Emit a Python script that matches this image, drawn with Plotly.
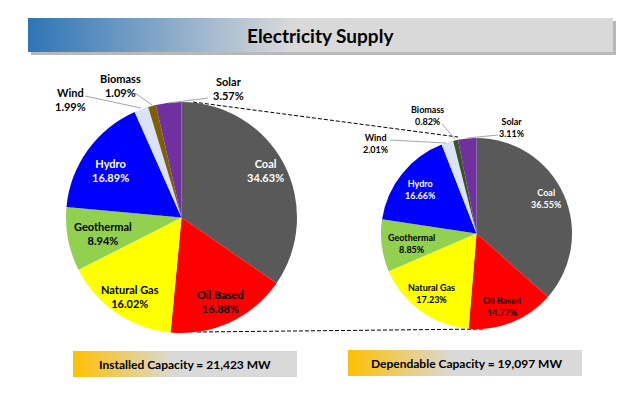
import plotly.graph_objects as go

# ---------------- data ----------------
categories = ["Coal", "Oil Based", "Natural Gas", "Geothermal", "Hydro", "Wind", "Biomass", "Solar"]
installed_pct = [34.63, 16.88, 16.02, 8.94, 16.89, 1.99, 1.09, 3.57]
dependable_pct = [36.55, 14.77, 17.23, 8.85, 16.66, 2.01, 0.82, 3.11]
title_text = "Electricity Supply"
installed_label = "Installed Capacity = 21,423 MW"
dependable_label = "Dependable Capacity = 19,097 MW"

# ---------------- styles ----------------
W, H = 643, 394
OFF = 8  # page body margin: the figure starts 8px in from the page corner
colors_left = ["#595959", "#FF0000", "#FFFF00", "#92D050", "#0000FF", "#DAE3F3", "#7F6000", "#7030A0"]
colors_right = ["#595959", "#FF0000", "#FFFF00", "#92D050", "#0000FF", "#DAE3F3", "#375623", "#7030A0"]
white_text = {"Coal", "Hydro"}
FONT = "Lato"

# label anchor positions (page pixels) for each category
pos_left = {"Coal": (265, 170), "Oil Based": (220, 301), "Natural Gas": (130, 296),
            "Geothermal": (103, 233), "Hydro": (110, 170), "Wind": (70, 99),
            "Biomass": (120, 85), "Solar": (228, 88)}
pos_right = {"Coal": (546, 198), "Oil Based": (502, 306), "Natural Gas": (431, 293),
             "Geothermal": (411, 243), "Hydro": (420, 189), "Wind": (376, 143),
             "Biomass": (427, 115), "Solar": (512, 127)}
leaders_left = {"Wind": (85, 96, 141, 108), "Biomass": (135, 93, 152, 105), "Solar": (208, 98, 168, 103)}
leaders_right = {"Wind": (390, 140, 446, 143), "Biomass": (442, 124, 455, 139), "Solar": (498, 135, 468, 138)}


def dom(x0, x1, y0, y1):
    return dict(x=[(x0 - OFF) / W, (x1 - OFF) / W], y=[1 - (y1 - OFF) / H, 1 - (y0 - OFF) / H])


fig = go.Figure()


def grad_box(x0, y0, x1, y1, c0, c1, stop):
    fig.add_trace(go.Scatter(
        x=[x0, x1, x1, x0, x0], y=[y0, y0, y1, y1, y0], mode="lines",
        line=dict(width=0), fill="toself",
        fillgradient=dict(type="horizontal", colorscale=[[0, c0], [stop, c1], [1, c1]]),
        hoverinfo="skip", showlegend=False))


# title shadow
fig.add_shape(type="rect", x0=31, y0=21, x1=616, y1=55, line=dict(width=0),
              fillcolor="rgba(0,0,0,0.28)", layer="below")
grad_box(28, 18, 613, 52, "#2E75B6", "#D9D9D9", 0.45)
grad_box(73, 351, 297, 377, "#FFC000", "#D9D9D9", 0.45)
grad_box(348, 350, 582, 376, "#FFC000", "#D9D9D9", 0.45)

# pies
fig.add_trace(go.Pie(labels=categories, values=installed_pct, sort=False, direction="clockwise",
                     rotation=0, marker=dict(colors=colors_left, line=dict(width=0)),
                     textinfo="none", hoverinfo="label+percent", showlegend=False,
                     domain=dom(66, 297, 102, 333)))
fig.add_trace(go.Pie(labels=categories, values=dependable_pct, sort=False, direction="clockwise",
                     rotation=0, marker=dict(colors=colors_right, line=dict(width=0)),
                     textinfo="none", hoverinfo="label+percent", showlegend=False,
                     domain=dom(381, 572, 138, 329)))

# dashed connectors
fig.add_shape(type="line", x0=193, y0=102, x1=458, y1=137, line=dict(color="black", width=1, dash="4px,2px"), layer="below")
fig.add_shape(type="line", x0=197, y0=332, x1=485, y1=329, line=dict(color="black", width=1, dash="4px,2px"), layer="below")

annotations = []
for cats, vals, pos, leaders, size in [(categories, installed_pct, pos_left, leaders_left, 11),
                                        (categories, dependable_pct, pos_right, leaders_right, 9)]:
    for c, v in zip(cats, vals):
        x, y = pos[c]
        annotations.append(dict(x=x, y=y, xref="x", yref="y", text=f"<b>{c}<br>{v:.2f}%</b>",
                                showarrow=False, xanchor="center", yanchor="middle",
                                font=dict(family=FONT, size=size, color="white" if c in white_text else "black")))
    for c, (x0, y0, x1, y1) in leaders.items():
        fig.add_shape(type="line", x0=x0, y0=y0, x1=x1, y1=y1, line=dict(color="#A6A6A6", width=1), layer="above")

annotations.append(dict(x=320, y=35, xref="x", yref="y", text=f"<b>{title_text}</b>", showarrow=False,
                        font=dict(family=FONT, size=19, color="black")))
annotations.append(dict(x=185, y=364, xref="x", yref="y", text=f"<b>{installed_label}</b>", showarrow=False,
                        font=dict(family=FONT, size=12, color="black")))
annotations.append(dict(x=466, y=363, xref="x", yref="y", text=f"<b>{dependable_label}</b>", showarrow=False,
                        font=dict(family=FONT, size=12, color="black")))

fig.update_layout(
    width=W, height=H, margin=dict(l=0, r=0, t=0, b=0),
    paper_bgcolor="white", plot_bgcolor="rgba(0,0,0,0)",
    xaxis=dict(range=[OFF, W + OFF], visible=False, fixedrange=True),
    yaxis=dict(range=[H + OFF, OFF], visible=False, fixedrange=True),
    annotations=annotations, showlegend=False,
)

fig.write_html("out.html")
